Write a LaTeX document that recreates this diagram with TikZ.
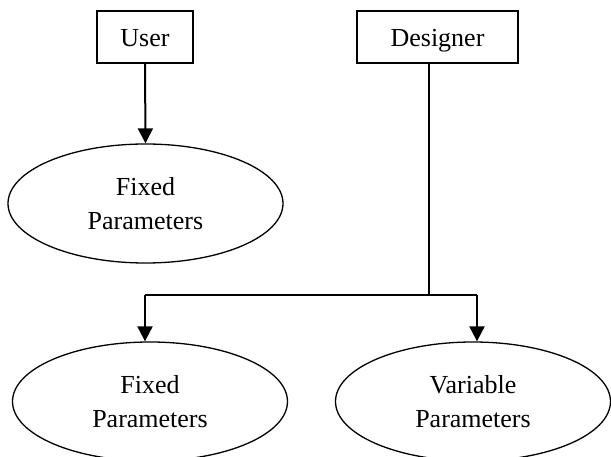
\documentclass[tikz,border=0pt]{standalone}
\usepackage{fontspec}
\setmainfont{Liberation Serif}
\usetikzlibrary{shapes.geometric,arrows.meta}
\begin{document}
\begin{tikzpicture}[x=1pt,y=-1pt,
  box/.style={draw,line width=1.5pt,minimum height=52pt,inner sep=0pt,text height=20pt,text depth=0pt,font=\fontsize{26}{34}\selectfont},
  oval/.style={draw,ellipse,line width=1.3pt,inner sep=0pt,minimum width=275pt,minimum height=119pt,align=center,font=\fontsize{26}{34}\selectfont},
  conn/.style={line width=2pt,-{Triangle[width=15pt,length=15pt]}},
  plain/.style={line width=1.5pt}]
\useasboundingbox (0,0) rectangle (611,457);
\node[box,minimum width=96pt] (user) at (145,37) {User};
\node[box,minimum width=161pt] (designer) at (437.5,37) {Designer};
\node[oval] (fixed1) at (145.5,203.5) {Fixed\\Parameters};
\node[oval] (fixed2) at (150,401.5) {Fixed\\Parameters};
\node[oval] (var) at (473,401.5) {Variable\\Parameters};
\coordinate (j) at (429,295);
\coordinate (jl) at (145,295);
\coordinate (jr) at (477,295);
\draw[conn] (user.south) -- (fixed1.north);
\draw[plain] (designer.south -| j) -- (j);
\draw[line width=2pt] (jl) -- (jr);
\draw[conn] (jl) -- (jl |- fixed2.north);
\draw[conn] (jr) -- (jr |- var.north);
\end{tikzpicture}
\end{document}
